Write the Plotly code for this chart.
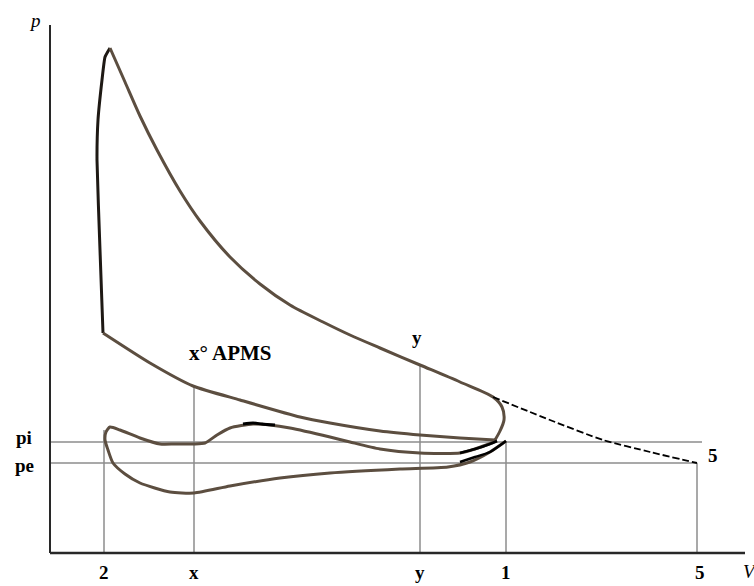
import plotly.graph_objects as go

# ---- data (V, p in drawing units) ----
V_rise = [103, 100, 97, 98, 102, 105, 110]
p_rise = [253, 336, 426, 466, 506, 529, 538]

V_exp = [110, 125, 140, 157, 180, 200, 230, 260, 290, 323, 350, 380, 420, 460, 493, 502, 504, 500, 495]
p_exp = [538, 504, 470, 436, 395, 365, 329, 302, 281, 264, 251, 238, 221, 204, 189, 179, 166, 155, 146]

V_comp = [495, 460, 420, 380, 330, 300, 240, 193, 150, 103]
p_comp = [146, 148, 151, 155, 163, 169, 186, 200, 223, 253]

V_pump = [497, 475, 460, 420, 380, 350, 330, 290, 270, 253, 230, 217, 205, 194, 175, 160, 140, 120,
          110, 106, 105, 108, 113, 125, 140, 170, 194, 230, 280, 330, 400, 448, 470, 490, 506]
p_pump = [145, 137, 133, 133, 137, 144, 149, 158, 161, 162, 158, 151, 143, 142, 142, 142, 148, 156,
          159, 154, 146, 136, 123, 112, 103, 94, 93, 100, 108, 113, 117, 119, 124, 134, 145]

V_blk1 = [460, 475, 490, 497]
p_blk1 = [133, 137, 142, 145]
V_blk2 = [460, 475, 490, 506]
p_blk2 = [124, 129, 134, 145]
V_blk3 = [243, 253, 262, 275]
p_blk3 = [162, 163, 162, 161]

V_dash = [493, 550, 603, 650, 697]
p_dash = [189, 166, 146, 134, 123]

p_i = 144
p_e = 123
V_axis0 = 50
p_axis0 = 33
V_axis_end = 745
p_axis_end = 561

tick_V = [104, 194, 420, 506, 700]
tick_labels = ["2", "x", "y", "1", "5"]
vline_V = [104, 194, 420, 506, 697]
vline_top = [156, 200, 221, 145, 123]

BROWN = "rgb(92,78,64)"
GRAY = "rgb(140,140,140)"

fig = go.Figure()

def add_line(x, y, color, width, shape="linear", dash="solid", smoothing=1.0):
    line = dict(color=color, width=width, dash=dash, shape=shape)
    if shape == "spline":
        line["smoothing"] = smoothing
    fig.add_trace(go.Scatter(x=x, y=y, mode="lines", line=line, hoverinfo="skip", showlegend=False))

# guide lines
add_line([V_axis0, 702], [p_i, p_i], GRAY, 1.5)
add_line([V_axis0, 697], [p_e, p_e], GRAY, 1.5)
for v, t in zip(vline_V, vline_top):
    add_line([v, v], [p_axis0, t], GRAY, 1.5)

# axes
add_line([V_axis0, V_axis0], [p_axis0, p_axis_end], "rgb(40,40,40)", 2)
add_line([V_axis0, V_axis_end], [p_axis0, p_axis0], "rgb(40,40,40)", 2.5)

# cycle
add_line(V_rise, p_rise, "rgb(30,25,20)", 3, "spline", smoothing=0.4)
add_line(V_exp, p_exp, BROWN, 3, "spline", smoothing=0.8)
add_line(V_comp, p_comp, BROWN, 3, "spline", smoothing=0.6)
add_line(V_pump, p_pump, BROWN, 3, "spline", smoothing=0.6)
add_line(V_blk1, p_blk1, "black", 2.5, "spline", smoothing=0.6)
add_line(V_blk2, p_blk2, "black", 2.5, "spline", smoothing=0.6)
add_line(V_blk3, p_blk3, "black", 3, "spline", smoothing=0.6)
add_line(V_dash, p_dash, "black", 1.8, "spline", dash="7px,3px", smoothing=0.6)

bold = dict(family="Liberation Serif", size=19, color="black")
ital = dict(family="Liberation Serif", size=19, color="black")

ann = []
for v, t in zip(tick_V, tick_labels):
    ann.append(dict(x=v, y=14, text=f"<b>{t}</b>", showarrow=False, font=bold))
ann += [
    dict(x=24, y=149, text="<b>pi</b>", showarrow=False, font=bold),
    dict(x=24, y=121, text="<b>pe</b>", showarrow=False, font=bold),
    dict(x=713, y=131, text="<b>5</b>", showarrow=False, font=bold),
    dict(x=417, y=249, text="<b>y</b>", showarrow=False, font=bold),
    dict(x=187, y=233, text="<b>x° APMS</b>", showarrow=False,
         font=dict(family="Liberation Serif", size=21, color="black"), xanchor="left"),
    dict(x=35, y=566, text="<i>p</i>", showarrow=False, font=ital),
    dict(x=750, y=15, text="<i>V</i>", showarrow=False, font=ital),
]

fig.update_layout(
    width=754, height=586,
    margin=dict(l=0, r=0, t=0, b=0),
    paper_bgcolor="white", plot_bgcolor="white",
    xaxis=dict(range=[0, 754], visible=False, fixedrange=True),
    yaxis=dict(range=[0, 586], visible=False, fixedrange=True),
    annotations=ann,
    showlegend=False,
)

fig.write_html("out.html", config={"displayModeBar": False})

# remove default page margin so the figure sits at the window's top-left corner
with open("out.html", "r", encoding="utf-8") as f:
    html = f.read()
html = html.replace("<head>", "<head><style>html,body{margin:0;padding:0;overflow:hidden;}</style>", 1)
with open("out.html", "w", encoding="utf-8") as f:
    f.write(html)
